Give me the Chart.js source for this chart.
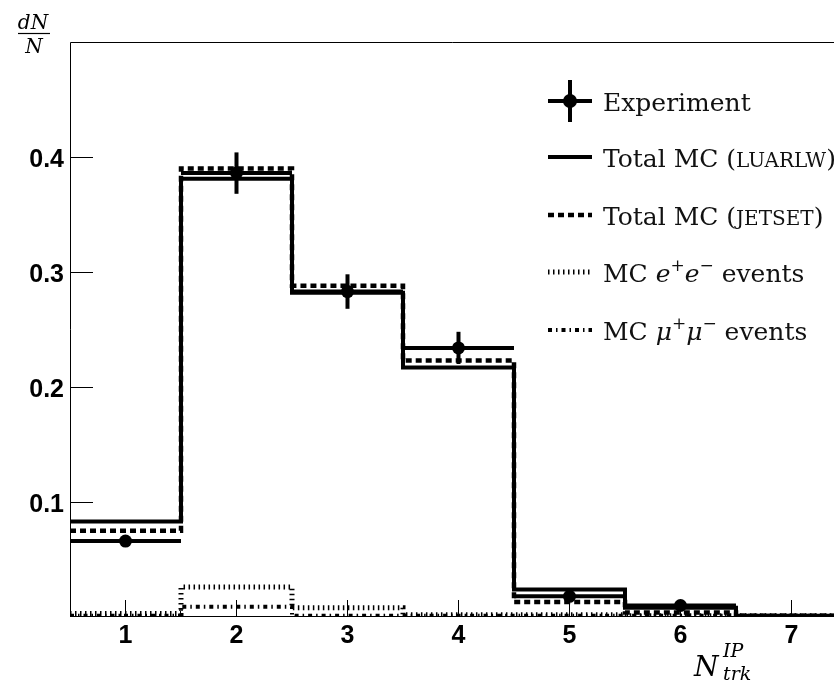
<!DOCTYPE html>
<html>
<head>
<meta charset="utf-8">
<script src="https://cdn.jsdelivr.net/npm/chart.js@4/dist/chart.umd.min.js"></script>
<style>
  html, body { margin: 0; padding: 0; background: #fff; overflow: hidden; }
  #wrap { width: 834px; height: 683px; position: relative; }
</style>
</head>
<body>
<div id="wrap"><canvas id="hist"></canvas></div>
<script>
// bin centres of the track multiplicity histogram
const binCenters = [1, 2, 3, 4, 5, 6, 7];
const xTicks = [1, 2, 3, 4, 5, 6, 7];
const yTicks = [0.1, 0.2, 0.3, 0.4];

const expValues = [0.066, 0.386, 0.283, 0.234, 0.018, 0.010, null];
const expErrors = [0.003, 0.018, 0.015, 0.014, 0.004, 0.002, 0];
const mcLuarlw  = [0.083, 0.381, 0.282, 0.217, 0.024, 0.008, 0.001];
const mcJetset  = [0.075, 0.390, 0.288, 0.223, 0.013, 0.004, 0.001];
const mcEE      = [0.003, 0.026, 0.008, 0.002, 0.002, 0.001, 0.001];
const mcMuMu    = [0.001, 0.009, 0.001, 0.001, 0.001, 0.001, 0.001];

const serif = '"DejaVu Serif", serif';
const sans = '"Liberation Sans", Arial, sans-serif';

// left bin edges + closing edge, drawn as a stepped line
function stepPoints(values) {
  const pts = values.map((v, i) => ({ x: binCenters[i] - 0.5, y: v }));
  pts.push({ x: binCenters[binCenters.length - 1] + 0.5, y: values[values.length - 1] });
  return pts;
}

function histo(label, values, dash, width) {
  return {
    label: label,
    data: stepPoints(values),
    stepped: true,
    borderColor: '#000',
    borderWidth: width,
    borderDash: dash,
    borderCapStyle: 'butt',
    pointRadius: 0,
    fill: false
  };
}

function drawRuns(ctx, x, y, runs) {
  for (const r of runs) {
    ctx.font = r.font;
    ctx.fillText(r.text, x, y + (r.dy || 0));
    x += ctx.measureText(r.text).width;
  }
  return x;
}

const rm = '25px ' + serif;
const it = 'italic 25px ' + serif;
const sc = '20px ' + serif;
const supFont = '17px ' + serif;

const legendRows = [
  { y: 101, kind: 'exp', runs: [{ text: 'Experiment', font: rm }] },
  { y: 157, kind: 1, runs: [{ text: 'Total MC (', font: rm }, { text: 'LUARLW', font: sc }, { text: ')', font: rm }] },
  { y: 215, kind: 2, runs: [{ text: 'Total MC (', font: rm }, { text: 'JETSET', font: sc }, { text: ')', font: rm }] },
  { y: 272, kind: 3, runs: [{ text: 'MC ', font: rm }, { text: 'e', font: it }, { text: '+', font: supFont, dy: -11 },
                              { text: 'e', font: it }, { text: '\u2212', font: supFont, dy: -11 }, { text: ' events', font: rm }] },
  { y: 330, kind: 4, runs: [{ text: 'MC ', font: rm }, { text: '\u03bc', font: it }, { text: '+', font: supFont, dy: -11 },
                              { text: '\u03bc', font: it }, { text: '\u2212', font: supFont, dy: -11 }, { text: ' events', font: rm }] }
];

const frameAndDecor = {
  id: 'frameAndDecor',
  afterDatasetsDraw(chart) {
    const ctx = chart.ctx;
    const a = chart.chartArea;
    const xs = chart.scales.x, ys = chart.scales.y;
    ctx.save();

    // experiment: bin-wide horizontal bars and vertical error bars
    ctx.strokeStyle = '#000';
    ctx.lineWidth = 4;
    ctx.lineCap = 'butt';
    expValues.forEach((v, i) => {
      if (v === null) return;
      const c = binCenters[i];
      const py = ys.getPixelForValue(v);
      ctx.beginPath();
      ctx.moveTo(xs.getPixelForValue(c - 0.5), py);
      ctx.lineTo(xs.getPixelForValue(c + 0.5), py);
      ctx.stroke();
      ctx.beginPath();
      ctx.moveTo(xs.getPixelForValue(c), ys.getPixelForValue(v - expErrors[i]));
      ctx.lineTo(xs.getPixelForValue(c), ys.getPixelForValue(v + expErrors[i]));
      ctx.stroke();
    });

    // frame
    ctx.lineWidth = 1;
    ctx.beginPath();
    ctx.moveTo(a.left + 0.5, a.bottom);
    ctx.lineTo(a.left + 0.5, a.top + 0.5);
    ctx.lineTo(a.right, a.top + 0.5);
    ctx.moveTo(a.left, a.bottom - 0.5);
    ctx.lineTo(a.right, a.bottom - 0.5);
    ctx.stroke();

    // inward ticks and labels
    ctx.fillStyle = '#000';
    ctx.font = 'bold 25px ' + sans;
    ctx.textAlign = 'center';
    ctx.textBaseline = 'alphabetic';
    xTicks.forEach(t => {
      const px = Math.round(xs.getPixelForValue(t)) + 0.5;
      ctx.beginPath();
      ctx.moveTo(px, a.bottom);
      ctx.lineTo(px, a.bottom - 17);
      ctx.stroke();
      ctx.fillText(String(t), px, a.bottom + 26);
    });
    ctx.textAlign = 'right';
    yTicks.forEach(t => {
      const py = Math.round(ys.getPixelForValue(t)) + 0.5;
      ctx.beginPath();
      ctx.moveTo(a.left, py);
      ctx.lineTo(a.left + 23, py);
      ctx.stroke();
      ctx.fillText(t.toFixed(1), a.left - 6, py + 9);
    });

    // axis titles
    ctx.textAlign = 'left';
    ctx.font = 'italic 28px ' + serif;
    ctx.fillText('N', 694, 676);
    ctx.font = 'italic 19px ' + serif;
    ctx.fillText('IP', 723, 657);
    ctx.fillText('trk', 723, 680);

    ctx.textAlign = 'center';
    ctx.font = 'italic 20px ' + serif;
    ctx.fillText('dN', 33, 29);
    ctx.fillText('N', 34, 53);
    ctx.lineWidth = 1.2;
    ctx.beginPath();
    ctx.moveTo(18, 33.5);
    ctx.lineTo(50, 33.5);
    ctx.stroke();

    // legend
    const ds = chart.data.datasets;
    ctx.textAlign = 'left';
    legendRows.forEach(row => {
      if (row.kind === 'exp') {
        ctx.lineWidth = 4;
        ctx.setLineDash([]);
        ctx.beginPath();
        ctx.moveTo(548, row.y);
        ctx.lineTo(592, row.y);
        ctx.moveTo(570, row.y - 21);
        ctx.lineTo(570, row.y + 21);
        ctx.stroke();
        ctx.beginPath();
        ctx.arc(570, row.y, 7, 0, Math.PI * 2);
        ctx.fill();
      } else {
        const d = ds[row.kind];
        ctx.lineWidth = d.borderWidth;
        ctx.setLineDash(d.borderDash);
        ctx.beginPath();
        ctx.moveTo(548, row.y);
        ctx.lineTo(592, row.y);
        ctx.stroke();
        ctx.setLineDash([]);
      }
      ctx.fillStyle = '#111';
      drawRuns(ctx, 603, row.y + 10, row.runs);
      ctx.fillStyle = '#000';
    });
    ctx.restore();
  }
};

new Chart(document.getElementById('hist'), {
  type: 'line',
  data: {
    datasets: [
      {
        label: 'Experiment',
        data: binCenters.map((c, i) => ({ x: c, y: expValues[i] })),
        showLine: false,
        pointRadius: 6.5,
        pointStyle: 'circle',
        pointBackgroundColor: '#000',
        pointBorderColor: '#000',
        pointBorderWidth: 0
      },
      histo('Total MC (LUARLW)', mcLuarlw, [], 4),
      histo('Total MC (JETSET)', mcJetset, [6, 4], 4.5),
      histo('MC e+e- events', mcEE, [1.5, 3.5], 5),
      histo('MC mu+mu- events', mcMuMu, [4, 4, 1.5, 4], 4)
    ]
  },
  options: {
    responsive: true,
    maintainAspectRatio: false,
    animation: false,
    layout: { autoPadding: false, padding: { left: 70, top: 42, right: 0, bottom: 66 } },
    plugins: { legend: { display: false }, tooltip: { enabled: false } },
    scales: {
      x: { type: 'linear', min: 0.5, max: 7.383, display: false },
      y: { type: 'linear', min: 0, max: 0.5, display: false }
    }
  },
  plugins: [frameAndDecor]
});
</script>
</body>
</html>
